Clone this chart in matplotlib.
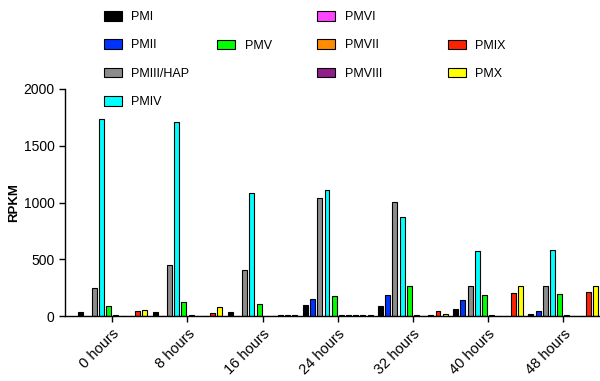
import matplotlib
matplotlib.use("Agg")
import matplotlib.pyplot as plt
import numpy as np
from matplotlib.patches import Patch

plt.rcParams['font.family'] = ['Liberation Sans', 'DejaVu Sans']

# time points
hours = ['0 hours', '8 hours', '16 hours', '24 hours', '32 hours', '40 hours', '48 hours']

# RPKM per gene
names = ['PMI', 'PMII', 'PMIII/HAP', 'PMIV', 'PMV', 'PMVI', 'PMVII', 'PMVIII', 'PMIX', 'PMX']
PMI = [35, 35, 35, 100, 90, 60, 15]
PMII = [3, 2, 3, 150, 185, 145, 45]
PMIII = [245, 448, 406, 1038, 1003, 260, 260]
PMIV = [1738, 1709, 1082, 1111, 876, 570, 585]
PMV = [85, 120, 105, 180, 260, 185, 195]
PMVI = [8, 5, 4, 6, 8, 8, 8]
PMVII = [2, 1, 3, 5, 3, 3, 2]
PMVIII = [3, 2, 8, 8, 5, 4, 3]
PMIX = [40, 30, 8, 8, 40, 200, 210]
PMX = [55, 75, 8, 10, 20, 265, 260]
series = [PMI, PMII, PMIII, PMIV, PMV, PMVI, PMVII, PMVIII, PMIX, PMX]

colors = ['#000000', '#0033ff', '#8c8c8c', '#00ffff', '#00ff00',
          '#ff44ff', '#ff8c00', '#921e8c', '#ff2200', '#ffff00']

fig = plt.figure(figsize=(6, 3.81), dpi=100)
ax = fig.add_axes([65/600, 1-316/381, 535/600, 227/381])

x = np.arange(len(hours))
step = 0.0955
w = 0.066
for i in range(len(series)):
    ax.bar(x + (i - 4.5)*step, series[i], width=w, color=colors[i],
           edgecolor='black', linewidth=0.8)

ax.set_xlim(-0.63, 6.49)
ax.set_ylim(0, 2000)
ax.set_yticks([0, 500, 1000, 1500, 2000])
ax.set_xticks(x)
ax.set_xticklabels(hours, rotation=45, ha='right', rotation_mode='anchor', fontsize=10.5)
ax.tick_params(axis='y', labelsize=10, length=4, width=1)
ax.tick_params(axis='x', length=4, width=1)
for s in ['top', 'right']:
    ax.spines[s].set_visible(False)
ax.spines['left'].set_linewidth(1)
ax.spines['bottom'].set_linewidth(1)
ax.set_ylabel('RPKM', fontweight='bold', fontsize=9.5)
ax.yaxis.set_label_coords(-0.083, 0.5)

# legend laid out in four uneven columns like the original
h = [Patch(facecolor=colors[i], edgecolor='black', linewidth=0.8, label=names[i]) for i in range(10)]
cols = [([0, 1, 2, 3], 104, 0), ([4], 217, 1), ([5, 6, 7], 317, 0), ([8, 9], 448, 1)]
for idx, xp, row in cols:
    fig.legend(handles=[h[i] for i in idx], loc='upper left',
               bbox_to_anchor=(xp/600, 1 - (11 + row*28.5)/381),
               bbox_transform=fig.transFigure, frameon=False, fontsize=9,
               borderpad=0, borderaxespad=0, handlelength=1.4, handleheight=0.8,
               handletextpad=0.8, labelspacing=1.3)

fig.savefig('out.png', dpi=100)
